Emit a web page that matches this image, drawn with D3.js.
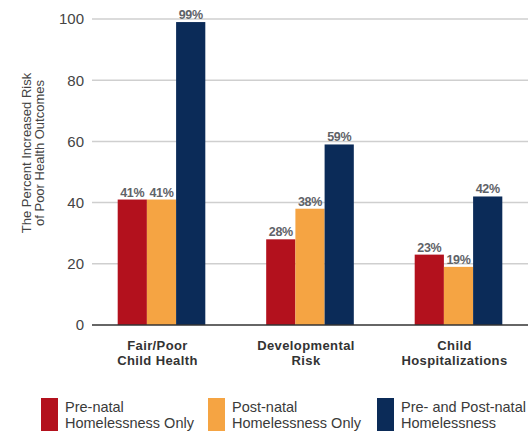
<!DOCTYPE html>
<html>
<head>
<meta charset="utf-8">
<script src="https://cdn.jsdelivr.net/npm/d3@7"></script>
<style>
  body { margin: 0; background: #fff; }
  svg { display: block; font-family: "Liberation Sans", Arial, sans-serif; }
</style>
</head>
<body>
<svg id="chart" width="531" height="435"></svg>
<script>
// chart values
const categories = ['Fair/Poor Child Health', 'Developmental Risk', 'Child Hospitalizations'];
const categoryLines = [['Fair/Poor', 'Child Health'], ['Developmental', 'Risk'], ['Child', 'Hospitalizations']];
const seriesNames = ['pre', 'post', 'both'];
const seriesLabels = [['Pre-natal', 'Homelessness Only'], ['Post-natal', 'Homelessness Only'], ['Pre- and Post-natal', 'Homelessness']];
const preNatal = [41, 28, 23];
const postNatal = [41, 38, 19];
const prePostNatal = [99, 59, 42];
const yTicks = [0, 20, 40, 60, 80, 100];
const colors = ['#b3111d', '#f5a443', '#0b2b58'];

const seriesValues = [preNatal, postNatal, prePostNatal];
const rows = categories.map((c, i) => ({
  category: c,
  values: seriesNames.map((s, j) => ({ key: s, value: seriesValues[j][i], color: colors[j] }))
}));

const svg = d3.select('#chart');
const plotLeft = 92, plotRight = 528, plotTop = 19, plotBottom = 325;

const x = d3.scaleBand().domain(categories).range([plotLeft, plotRight])
  .paddingInner(0.41).paddingOuter(0.173);
const xInner = d3.scaleBand().domain(seriesNames).range([0, x.bandwidth()]);
const y = d3.scaleLinear().domain([0, 100]).range([plotBottom, plotTop]);

// gridlines
svg.append('g').selectAll('line.grid').data(yTicks.filter((t) => t > 0)).join('line')
  .classed('grid', true)
  .attr('x1', plotLeft).attr('x2', plotRight)
  .attr('y1', (d) => y(d)).attr('y2', (d) => y(d))
  .style('stroke', '#cfcfcf').style('stroke-width', 1.5);

// y tick labels
const yAxis = svg.append('g').attr('transform', `translate(${plotLeft},0)`)
  .call(d3.axisLeft(y).tickValues(yTicks).tickSize(0).tickPadding(8));
yAxis.select('.domain').remove();
yAxis.selectAll('text')
  .style('font-size', '15px').style('fill', '#444')
  .style('font-family', '"Liberation Sans", Arial, sans-serif');

// y title
const title = svg.append('text')
  .attr('transform', 'translate(0,153) rotate(-90)')
  .attr('text-anchor', 'middle')
  .style('font-size', '13px').style('fill', '#444');
title.append('tspan').attr('x', 0).attr('y', 31).text('The Percent Increased Risk');
title.append('tspan').attr('x', 0).attr('y', 44).text('of Poor Health Outcomes');

// bars
const groups = svg.append('g').selectAll('g.group').data(rows).join('g')
  .classed('group', true)
  .attr('transform', (d) => `translate(${x(d.category)},0)`);

groups.selectAll('rect').data((d) => d.values).join('rect')
  .attr('x', (d) => xInner(d.key))
  .attr('width', xInner.bandwidth())
  .attr('y', (d) => y(d.value))
  .attr('height', (d) => y(0) - y(d.value))
  .style('fill', (d) => d.color);

groups.selectAll('text.val').data((d) => d.values).join('text')
  .classed('val', true)
  .attr('x', (d) => xInner(d.key) + xInner.bandwidth() / 2)
  .attr('y', (d) => y(d.value) - 3)
  .attr('text-anchor', 'middle')
  .style('font-size', '12.5px').style('font-weight', 'bold')
  .style('letter-spacing', '-0.3px').style('fill', '#5f6368')
  .text((d) => `${d.value}%`);

// zero axis
svg.append('line')
  .attr('x1', plotLeft).attr('x2', plotRight)
  .attr('y1', y(0)).attr('y2', y(0))
  .style('stroke', '#333').style('stroke-width', 1.5);

// category labels
const catLabels = svg.append('g').selectAll('text.cat').data(categories).join('text')
  .classed('cat', true)
  .attr('text-anchor', 'middle')
  .style('font-size', '13px').style('font-weight', 'bold')
  .style('letter-spacing', '0.4px').style('fill', '#333');
catLabels.each(function (d, i) {
  const cx = x(d) + x.bandwidth() / 2 - 4;
  d3.select(this).selectAll('tspan').data(categoryLines[i]).join('tspan')
    .attr('x', cx)
    .attr('y', (t, k) => 350 + k * 15)
    .text((t) => t);
});

// legend
const legendX = [41, 208, 377];
const legend = svg.append('g').selectAll('g.leg').data(seriesLabels).join('g')
  .classed('leg', true)
  .attr('transform', (d, i) => `translate(${legendX[i]},398)`);
legend.append('rect')
  .attr('width', 17).attr('height', 33)
  .style('fill', (d, i) => colors[i]);
legend.append('text')
  .style('font-size', '14.5px').style('fill', '#3a3a3a')
  .selectAll('tspan').data((d) => d).join('tspan')
  .attr('x', 24)
  .attr('y', (t, k) => 14 + k * 16)
  .text((t) => t);
</script>
</body>
</html>
